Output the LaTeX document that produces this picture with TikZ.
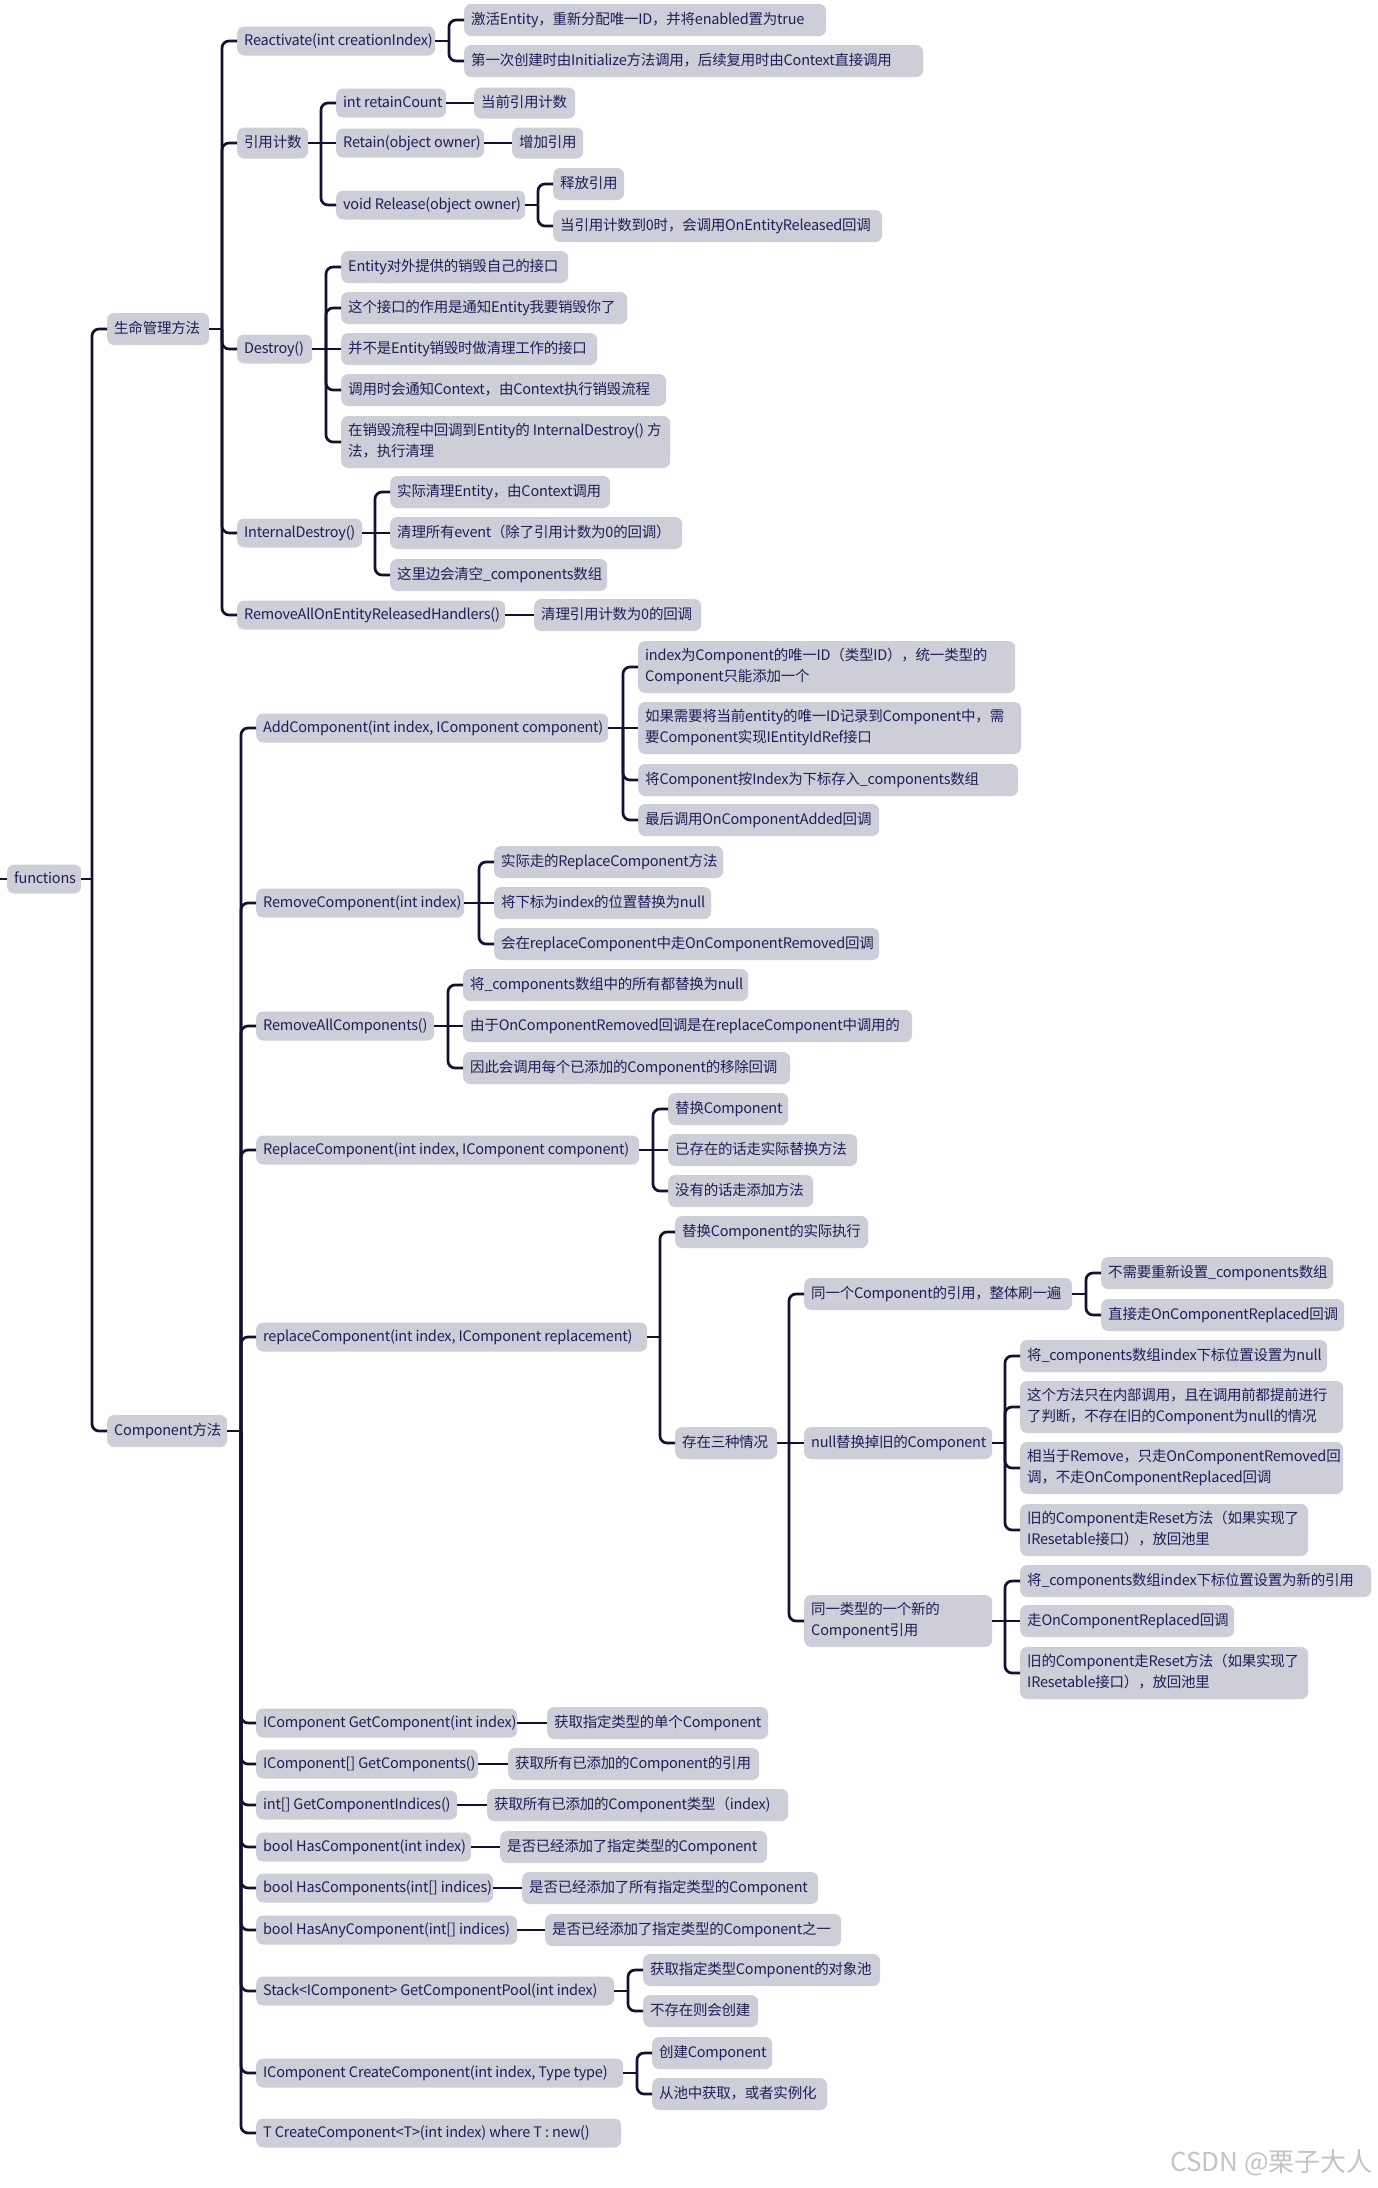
\documentclass[tikz,border=0pt]{standalone}
\usepackage{fontspec}
\setmainfont{Noto Sans CJK SC}
\newfontfamily\cjkf[LetterSpace=-1.5]{Noto Sans CJK SC}
\newfontfamily\wmf{Noto Sans CJK SC}
\usetikzlibrary{calc}
\definecolor{boxc}{RGB}{206,206,216}
\definecolor{txtc}{RGB}{30,30,88}
\definecolor{lnc}{RGB}{18,18,48}
\definecolor{wmc}{RGB}{196,196,196}
\tikzset{
  bx/.style={fill=boxc, rounded corners=7pt, inner xsep=7pt, inner ysep=0pt, anchor=west, text=txtc,
    font=\cjkf\fontsize{14.5}{21}\selectfont},
  conn/.style={draw=lnc, line width=2.7pt}
}
\newdimen\lya \newdimen\lyb
\newcommand\boxtext[2]{\makebox[\dimexpr#1pt-14pt\relax][l]{\begin{tabular}{@{}l@{}}#2\end{tabular}}}
\newcommand\mynode[6]{\node[bx, minimum width=#4, minimum height=#5] (#1) at (#2,#3) {\boxtext{#4}{#6}};}
\newcommand\lnk[2]{%
  \draw[conn] (#1.east) -- ($(#1.east -| #2.west)+(-15,0)$);
  \pgfextracty{\lya}{\pgfpointanchor{#1}{east}}%
  \pgfextracty{\lyb}{\pgfpointanchor{#2}{west}}%
  \advance\lya by -\lyb
  \ifdim\lya<0pt \lya=-\lya\fi
  \ifdim\lya<1.5pt
    \draw[conn] ($(#1.east -| #2.west)+(-15,0)$) -- (#2.west);
  \else
    \draw[conn, rounded corners=7pt] ($(#1.east -| #2.west)+(-15,0)$) |- (#2.west);
  \fi}
\begin{document}
\begin{tikzpicture}[x=1pt, y=-1pt]
\useasboundingbox[fill=white] (0,0) rectangle (1377,2188);
% root
\mynode{fn}{7}{879}{74}{29}{functions}
\coordinate (lft) at (0,879);
% level 1
\mynode{lm}{107}{329}{102}{32}{生命管理方法}
\mynode{cm}{107}{1431}{120}{32}{Component方法}
% lifecycle
\mynode{re}{237}{41}{198}{29}{Reactivate(int creationIndex)}
\mynode{rc}{237}{143}{71}{31}{引用计数}
\mynode{de}{237}{349}{75}{29}{Destroy()}
\mynode{idn}{237}{533}{125}{29}{InternalDestroy()}
\mynode{ra}{237}{615}{268}{29}{RemoveAllOnEntityReleasedHandlers()}
\mynode{re1}{464}{20}{362}{32}{激活Entity，重新分配唯一ID，并将enabled置为true}
\mynode{re2}{464}{61}{459}{32}{第一次创建时由Initialize方法调用，后续复用时由Context直接调用}
\mynode{rc1}{336}{103}{110}{29}{int retainCount}
\mynode{rc1a}{474}{103}{101}{31}{当前引用计数}
\mynode{rc2}{336}{143}{148}{29}{Retain(object owner)}
\mynode{rc2a}{512}{143}{71}{31}{增加引用}
\mynode{rc3}{336}{205}{189}{29}{void Release(object owner)}
\mynode{rc3a}{553}{184}{71}{32}{释放引用}
\mynode{rc3b}{553}{226}{329}{32}{当引用计数到0时，会调用OnEntityReleased回调}
\mynode{de1}{341}{267}{227}{32}{Entity对外提供的销毁自己的接口}
\mynode{de2}{341}{308}{286}{32}{这个接口的作用是通知Entity我要销毁你了}
\mynode{de3}{341}{349}{256}{32}{并不是Entity销毁时做清理工作的接口}
\mynode{de4}{341}{390}{325}{32}{调用时会通知Context，由Context执行销毁流程}
\mynode{de5}{341}{442}{329}{52}{在销毁流程中回调到Entity的 InternalDestroy() 方\\法，执行清理}
\mynode{id1}{390}{492}{220}{32}{实际清理Entity，由Context调用}
\mynode{id2}{390}{533}{292}{32}{清理所有event（除了引用计数为0的回调）}
\mynode{id3}{390}{575}{217}{32}{这里边会清空\_components数组}
\mynode{ra1}{534}{615}{167}{32}{清理引用计数为0的回调}
% component methods
\mynode{ac}{256}{728}{352}{29}{AddComponent(int index, IComponent component)}
\mynode{ac1}{638}{667}{377}{52}{index为Component的唯一ID（类型ID），统一类型的\\Component只能添加一个}
\mynode{ac2}{638}{728}{383}{52}{如果需要将当前entity的唯一ID记录到Component中，需\\要Component实现IEntityIdRef接口}
\mynode{ac3}{638}{780}{380}{32}{将Component按Index为下标存入\_components数组}
\mynode{ac4}{638}{820}{241}{32}{最后调用OnComponentAdded回调}
\mynode{rm}{256}{903}{208}{29}{RemoveComponent(int index)}
\mynode{rm1}{494}{862}{229}{32}{实际走的ReplaceComponent方法}
\mynode{rm2}{494}{903}{217}{32}{将下标为index的位置替换为null}
\mynode{rm3}{494}{944}{385}{32}{会在replaceComponent中走OnComponentRemoved回调}
\mynode{rac}{256}{1026}{178}{29}{RemoveAllComponents()}
\mynode{rac1}{463}{985}{285}{32}{将\_components数组中的所有都替换为null}
\mynode{rac2}{463}{1026}{449}{32}{由于OnComponentRemoved回调是在replaceComponent中调用的}
\mynode{rac3}{463}{1068}{327}{32}{因此会调用每个已添加的Component的移除回调}
\mynode{Rp}{256}{1150}{383}{29}{ReplaceComponent(int index, IComponent component)}
\mynode{Rp1}{668}{1109}{120}{32}{替换Component}
\mynode{Rp2}{668}{1150}{189}{32}{已存在的话走实际替换方法}
\mynode{Rp3}{668}{1191}{145}{32}{没有的话走添加方法}
\mynode{rp}{256}{1337}{391}{29}{replaceComponent(int index, IComponent replacement)}
\mynode{rp1}{675}{1232}{193}{32}{替换Component的实际执行}
\mynode{rp2}{675}{1443}{102}{32}{存在三种情况}
\mynode{s1}{804}{1294}{268}{32}{同一个Component的引用，整体刷一遍}
\mynode{s1a}{1101}{1273}{232}{32}{不需要重新设置\_components数组}
\mynode{s1b}{1101}{1315}{243}{32}{直接走OnComponentReplaced回调}
\mynode{s2}{804}{1443}{188}{32}{null替换掉旧的Component}
\mynode{s2a}{1020}{1356}{307}{32}{将\_components数组index下标位置设置为null}
\mynode{s2b}{1020}{1407}{323}{52}{这个方法只在内部调用，且在调用前都提前进行\\了判断，不存在旧的Component为null的情况}
\mynode{s2c}{1020}{1468}{323}{52}{相当于Remove，只走OnComponentRemoved回\\调，不走OnComponentReplaced回调}
\mynode{s2d}{1020}{1530}{288}{52}{旧的Component走Reset方法（如果实现了\\IResetable接口），放回池里}
\mynode{s3}{804}{1621}{188}{52}{同一类型的一个新的\\Component引用}
\mynode{s3a}{1020}{1581}{351}{32}{将\_components数组index下标位置设置为新的引用}
\mynode{s3b}{1020}{1621}{214}{32}{走OnComponentReplaced回调}
\mynode{s3c}{1020}{1673}{288}{52}{旧的Component走Reset方法（如果实现了\\IResetable接口），放回池里}
\mynode{g1}{256}{1723}{261}{29}{IComponent GetComponent(int index)}
\mynode{g1a}{547}{1723}{221}{32}{获取指定类型的单个Component}
\mynode{g2}{256}{1764}{222}{29}{IComponent[] GetComponents()}
\mynode{g2a}{508}{1764}{251}{32}{获取所有已添加的Component的引用}
\mynode{g3}{256}{1805}{201}{29}{int[] GetComponentIndices()}
\mynode{g3a}{487}{1805}{301}{32}{获取所有已添加的Component类型（index)}
\mynode{g4}{256}{1847}{215}{29}{bool HasComponent(int index)}
\mynode{g4a}{500}{1847}{267}{32}{是否已经添加了指定类型的Component}
\mynode{g5}{256}{1888}{237}{29}{bool HasComponents(int[] indices)}
\mynode{g5a}{522}{1888}{296}{32}{是否已经添加了所有指定类型的Component}
\mynode{g6}{256}{1930}{261}{29}{bool HasAnyComponent(int[] indices)}
\mynode{g6a}{545}{1930}{296}{32}{是否已经添加了指定类型的Component之一}
\mynode{gp}{256}{1991}{358}{29}{Stack<IComponent> GetComponentPool(int index)}
\mynode{gp1}{643}{1970}{237}{32}{获取指定类型Component的对象池}
\mynode{gp2}{643}{2011}{115}{32}{不存在则会创建}
\mynode{cc}{256}{2073}{367}{29}{IComponent CreateComponent(int index, Type type)}
\mynode{cc1}{652}{2053}{120}{32}{创建Component}
\mynode{cc2}{652}{2094}{175}{32}{从池中获取，或者实例化}
\mynode{ct}{256}{2133}{365}{29}{T CreateComponent<T>(int index) where T : new()}
% watermark
\node[text=wmc, font=\wmf\fontsize{26}{28}\selectfont, anchor=east, inner sep=0pt] (wm) at (1373,2163) {CSDN @栗子大人};
% connectors
\draw[conn] (lft) -- (fn.west);
\lnk{fn}{lm}\lnk{fn}{cm}
\lnk{lm}{re}\lnk{lm}{rc}\lnk{lm}{de}\lnk{lm}{idn}\lnk{lm}{ra}
\lnk{re}{re1}\lnk{re}{re2}
\lnk{rc}{rc1}\lnk{rc}{rc2}\lnk{rc}{rc3}
\lnk{rc1}{rc1a}\lnk{rc2}{rc2a}\lnk{rc3}{rc3a}\lnk{rc3}{rc3b}
\lnk{de}{de1}\lnk{de}{de2}\lnk{de}{de3}\lnk{de}{de4}\lnk{de}{de5}
\lnk{idn}{id1}\lnk{idn}{id2}\lnk{idn}{id3}
\lnk{ra}{ra1}
\lnk{cm}{ac}\lnk{cm}{rm}\lnk{cm}{rac}\lnk{cm}{Rp}\lnk{cm}{rp}
\lnk{cm}{g1}\lnk{cm}{g2}\lnk{cm}{g3}\lnk{cm}{g4}\lnk{cm}{g5}\lnk{cm}{g6}
\lnk{cm}{gp}\lnk{cm}{cc}\lnk{cm}{ct}
\lnk{ac}{ac1}\lnk{ac}{ac2}\lnk{ac}{ac3}\lnk{ac}{ac4}
\lnk{rm}{rm1}\lnk{rm}{rm2}\lnk{rm}{rm3}
\lnk{rac}{rac1}\lnk{rac}{rac2}\lnk{rac}{rac3}
\lnk{Rp}{Rp1}\lnk{Rp}{Rp2}\lnk{Rp}{Rp3}
\lnk{rp}{rp1}\lnk{rp}{rp2}
\lnk{rp2}{s1}\lnk{rp2}{s2}\lnk{rp2}{s3}
\lnk{s1}{s1a}\lnk{s1}{s1b}
\lnk{s2}{s2a}\lnk{s2}{s2b}\lnk{s2}{s2c}\lnk{s2}{s2d}
\lnk{s3}{s3a}\lnk{s3}{s3b}\lnk{s3}{s3c}
\lnk{g1}{g1a}\lnk{g2}{g2a}\lnk{g3}{g3a}\lnk{g4}{g4a}\lnk{g5}{g5a}\lnk{g6}{g6a}
\lnk{gp}{gp1}\lnk{gp}{gp2}
\lnk{cc}{cc1}\lnk{cc}{cc2}
\end{tikzpicture}
\end{document}
